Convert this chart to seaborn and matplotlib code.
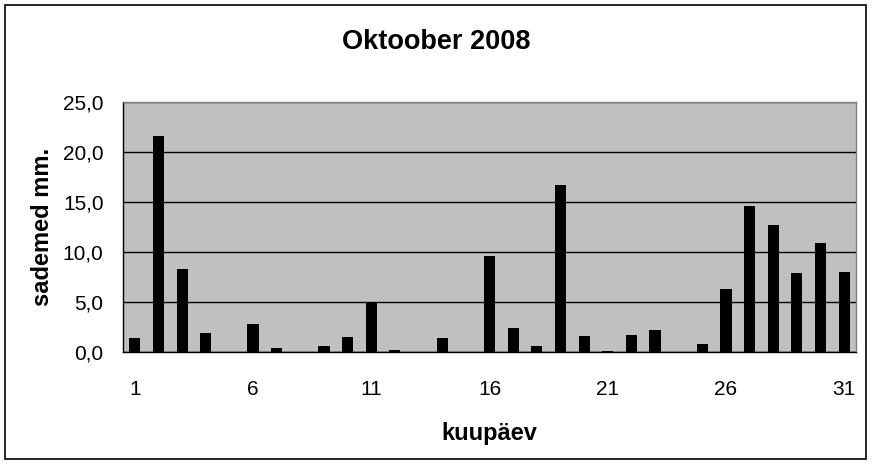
import numpy as np
import pandas as pd
import matplotlib
matplotlib.use("Agg")
import matplotlib.pyplot as plt
import seaborn as sns
from matplotlib.patches import Rectangle

# October 2008 daily precipitation (mm)
days = list(range(1, 32))
precip = [1.4, 21.6, 8.3, 1.9, 0.0, 2.8, 0.4, 0.0, 0.6, 1.5,
          5.0, 0.2, 0.0, 1.4, 0.0, 9.6, 2.4, 0.6, 16.7, 1.6,
          0.1, 1.7, 2.2, 0.0, 0.8, 6.3, 14.6, 12.7, 7.9, 10.9, 8.0]
y_ticks = [0, 5, 10, 15, 20, 25]
x_labels = ["1", "6", "11", "16", "21", "26", "31"]

df = pd.DataFrame({"day": [str(d) for d in days], "mm": precip})

sns.set_style("white")
plt.rcParams['font.family'] = ['Liberation Sans', 'DejaVu Sans']
plt.rcParams['text.color'] = 'black'
plt.rcParams['axes.labelcolor'] = 'black'
plt.rcParams['xtick.color'] = 'black'
plt.rcParams['ytick.color'] = 'black'

fig = plt.figure(figsize=(8.73, 4.65), dpi=100)
ax = fig.add_axes([123/873, 113/465, (856-123)/873, (352-102)/465])

sns.barplot(data=df, x="day", y="mm", color="black", width=0.47,
            saturation=1, linewidth=0, ax=ax, zorder=3)
ax.set_facecolor("#c0c0c0")

ax.set_ylim(0, 25)
ax.set_xlim(-0.5, len(days) - 0.5)
ax.set_yticks(y_ticks)
ax.set_yticklabels([f"{v:.1f}".replace(".", ",") for v in y_ticks], fontsize=15)
ax.yaxis.grid(True, color="black", linewidth=1, zorder=1)
ax.set_axisbelow(True)

# x: labels every 5 days, ticks at category boundaries
ax.set_xticks([days.index(int(l)) for l in x_labels])
ax.set_xticklabels(x_labels, fontsize=15)
ax.tick_params(axis="x", which="major", length=0, pad=20)
ax.set_xticks(np.arange(-0.5, len(days), 1), minor=True)
ax.tick_params(axis="x", which="minor", length=5, width=1, color="black",
               direction="out")
ax.tick_params(axis="y", length=6, width=1, color="black", direction="out", pad=8)

for s in ["left", "bottom"]:
    ax.spines[s].set_color("black")
    ax.spines[s].set_linewidth(1)
for s in ["top", "right"]:
    ax.spines[s].set_color("#808080")
    ax.spines[s].set_linewidth(1)

ax.set_xlabel("kuupäev", fontsize=17, fontweight="bold", labelpad=17)
ax.set_ylabel("sademed mm.", fontsize=17, fontweight="bold", labelpad=6)
fig.suptitle("Oktoober 2008", fontsize=19.5, fontweight="bold", y=1 - 42/465, va="center")

fig.patches.append(Rectangle((5/873, 6/465), 861/873, 454/465, transform=fig.transFigure,
                             fill=False, edgecolor="black", linewidth=1.2))

fig.savefig("out.png", dpi=100)
